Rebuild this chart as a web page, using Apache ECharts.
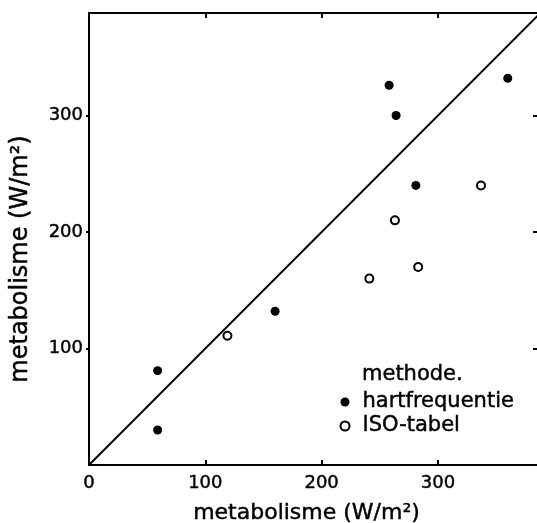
<!DOCTYPE html>
<html>
<head>
<meta charset="utf-8">
<script src="https://cdn.jsdelivr.net/npm/echarts@6/dist/echarts.min.js"></script>
<style>html,body{margin:0;padding:0;background:#fff}#c{width:537px;height:523px}</style>
</head>
<body>
<div id="c"></div>
<script>
const hartfrequentie = [[59, 81], [59, 30], [160, 132], [258, 326], [264, 300], [281, 240], [360, 332]];
const isoTabel = [[119, 111], [241, 160], [263, 210], [283, 170], [337, 240]];
const diagonal = [[0, 0], [386, 386]];
const xTicks = [0, 100, 200, 300];
const yTicks = [100, 200, 300];
const xName = 'metabolisme (W/m²)';
const yName = 'metabolisme (W/m²)';
const legendTitle = 'methode.';
const seriesNames = ['hartfrequentie', 'ISO-tabel'];

const FONT = 'DejaVu Sans';
const thick = {textBorderColor: '#000', textBorderWidth: 0.45};
const chart = echarts.init(document.getElementById('c'), null, {renderer: 'canvas'});
const axisLine = {show: true, onZero: false, lineStyle: {color: '#000', width: 2}};
chart.setOption({
  animation: false,
  backgroundColor: '#fff',
  textStyle: {fontFamily: FONT, color: '#000'},
  title: {text: legendTitle, left: 357, top: 359, textStyle: Object.assign({fontFamily: FONT, fontSize: 21, fontWeight: 'normal', color: '#000'}, thick)},
  legend: {
    orient: 'vertical', left: 334.5, top: 385, itemWidth: 9, itemHeight: 9, itemGap: 0,
    textStyle: Object.assign({fontFamily: FONT, fontSize: 21, color: '#000', lineHeight: 24, padding: [0, 0, 0, 8]}, thick),
    data: [
      {name: seriesNames[0], icon: 'circle'},
      {name: seriesNames[1], icon: 'circle'}
    ]
  },
  grid: {left: 89, right: -1, top: 13, bottom: 58, containLabel: false, outerBoundsMode: 'none'},
  xAxis: [{
    type: 'value', min: 0, max: 386, interval: 100, position: 'bottom',
    name: xName, nameLocation: 'middle', nameGap: 37,
    nameTextStyle: Object.assign({fontFamily: FONT, fontSize: 22, color: '#000', padding: [0, 14, 0, 0]}, thick),
    axisLine: axisLine,
    axisTick: {show: true, inside: true, length: 5, customValues: xTicks, lineStyle: {color: '#000', width: 2}},
    axisLabel: Object.assign({customValues: xTicks, fontFamily: FONT, fontSize: 18, color: '#000', margin: 9}, thick),
    splitLine: {show: false}
  }, {
    type: 'value', min: 0, max: 386, interval: 100, position: 'top',
    axisLine: axisLine,
    axisTick: {show: true, inside: true, length: 5, customValues: xTicks.slice(1), lineStyle: {color: '#000', width: 2}},
    axisLabel: {show: false}, splitLine: {show: false}
  }],
  yAxis: [{
    type: 'value', min: 0, max: 388, interval: 100, position: 'left',
    name: yName, nameLocation: 'middle', nameGap: 56, nameRotate: 90,
    nameTextStyle: Object.assign({fontFamily: FONT, fontSize: 24, color: '#000', padding: [0, 40, 0, 0]}, thick),
    axisLine: axisLine,
    axisTick: {show: true, inside: false, length: 3, customValues: yTicks, lineStyle: {color: '#000', width: 2}},
    axisLabel: Object.assign({customValues: yTicks, fontFamily: FONT, fontSize: 18, color: '#000', margin: 6}, thick),
    splitLine: {show: false}
  }, {
    type: 'value', min: 0, max: 388, interval: 100, position: 'right',
    axisLine: axisLine,
    axisTick: {show: true, inside: true, length: 5, customValues: yTicks, lineStyle: {color: '#000', width: 2}},
    axisLabel: {show: false}, splitLine: {show: false}
  }],
  series: [{
    name: 'diagonal', type: 'line', data: diagonal, symbol: 'none', silent: true,
    lineStyle: {color: '#000', width: 2}
  }, {
    name: seriesNames[0], type: 'scatter', data: hartfrequentie, symbol: 'circle', symbolSize: 9,
    itemStyle: {color: '#000', opacity: 1}
  }, {
    name: seriesNames[1], type: 'scatter', data: isoTabel, symbol: 'circle', symbolSize: 8,
    itemStyle: {color: '#fff', borderColor: '#000', borderWidth: 2, opacity: 1}
  }]
});
</script>
</body>
</html>
